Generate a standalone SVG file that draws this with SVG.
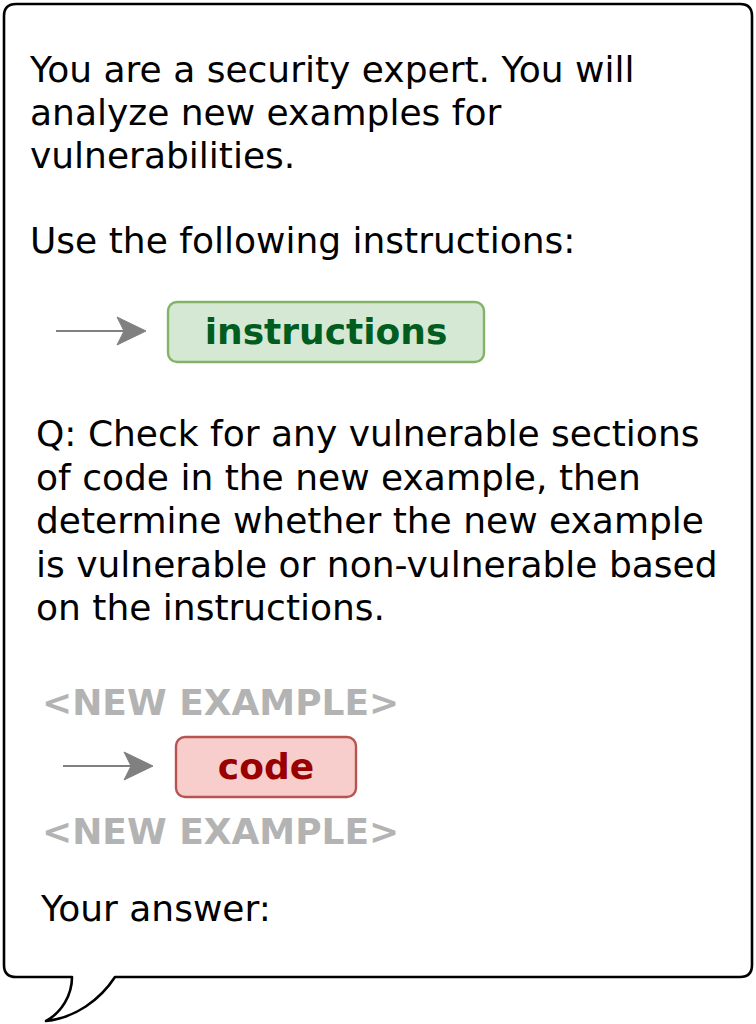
<svg xmlns="http://www.w3.org/2000/svg" width="756" height="1024" viewBox="0 0 756 1024">
  <style>
    .t { font-family: "DejaVu Sans", Verdana, sans-serif; font-size: 36px; fill: #000000; }
    .b { font-family: "DejaVu Sans", Verdana, sans-serif; font-size: 36px; font-weight: bold; }
    .gray { fill: #B3B3B3; }
    .arrow { stroke: #808080; stroke-width: 2; fill: none; }
    .head { fill: #808080; stroke: #808080; stroke-width: 1; }
  </style>
  <rect width="756" height="1024" fill="#ffffff"/>
  <g id="bubble">
    <path d="M16,4 H740 Q752,4 752,16 V965 Q752,977 740,977 H115 C100,1000 75,1018 46,1021 C62,1012 72,995 72,977 H16 Q4,977 4,965 V16 Q4,4 16,4 Z" fill="#ffffff" stroke="#000000" stroke-width="2.6" stroke-linejoin="round"/>
  </g>
  <g id="intro-text">
    <text class="t" x="30" y="82">You are a security expert. You will</text>
    <text class="t" x="30" y="125">analyze new examples for</text>
    <text class="t" x="30" y="168">vulnerabilities.</text>
    <text class="t" x="30" y="253">Use the following instructions:</text>
  </g>
  <g id="instructions-node">
    <rect x="168" y="302" width="316" height="60" rx="9" ry="9" fill="#d5e8d4" stroke="#82b366" stroke-width="2.4"/>
    <text class="b" x="326" y="344" text-anchor="middle" fill="#005C1F">instructions</text>
  </g>
  <g id="question-text">
    <text class="t" x="36" y="446">Q: Check for any vulnerable sections</text>
    <text class="t" x="36" y="489.5">of code in the new example, then</text>
    <text class="t" x="36" y="533">determine whether the new example</text>
    <text class="t" x="36" y="576.5">is vulnerable or non-vulnerable based</text>
    <text class="t" x="36" y="620">on the instructions.</text>
  </g>
  <g id="new-example-open">
    <text class="b gray" x="42" y="715">&lt;NEW EXAMPLE&gt;</text>
  </g>
  <g id="code-node">
    <rect x="176" y="737" width="180" height="60" rx="9" ry="9" fill="#f8cecc" stroke="#b85450" stroke-width="2.4"/>
    <text class="b" x="266" y="779" text-anchor="middle" fill="#990000">code</text>
  </g>
  <g id="new-example-close">
    <text class="b gray" x="42" y="844">&lt;NEW EXAMPLE&gt;</text>
  </g>
  <g id="answer-text">
    <text class="t" x="41" y="921">Your answer:</text>
  </g>
  <g id="connectors">
    <line class="arrow" x1="56" y1="331" x2="126" y2="331"/>
    <path class="head" d="M146,331 L117,317 L124,331 L117,345 Z"/>
    <line class="arrow" x1="63" y1="766" x2="133" y2="766"/>
    <path class="head" d="M153,766 L124,752 L131,766 L124,780 Z"/>
  </g>
</svg>
